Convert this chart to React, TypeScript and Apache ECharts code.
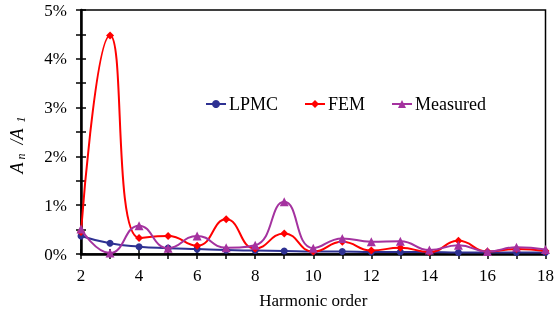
import React, { useEffect, useRef } from "react";
import * as echarts from "echarts";

const harmonics = [2, 3, 4, 5, 6, 7, 8, 9, 10, 11, 12, 13, 14, 15, 16, 17, 18];
const lpmc = [0.37, 0.22, 0.15, 0.12, 0.1, 0.08, 0.07, 0.06, 0.05, 0.05, 0.04, 0.04, 0.04, 0.03, 0.03, 0.03, 0.03];
const fem = [0.45, 4.48, 0.33, 0.37, 0.17, 0.71, 0.11, 0.42, 0.05, 0.25, 0.07, 0.13, 0.04, 0.27, 0.05, 0.1, 0.06];
const measured = [0.51, 0.02, 0.58, 0.12, 0.37, 0.13, 0.18, 1.07, 0.12, 0.32, 0.25, 0.26, 0.08, 0.18, 0.05, 0.14, 0.09];
const seriesNames = ["LPMC", "FEM", "Measured"];
const yTickLabels = ["0%", "1%", "2%", "3%", "4%", "5%"];
const xTickLabels = ["2", "4", "6", "8", "10", "12", "14", "16", "18"];

const FONT = "'Liberation Serif', 'Times New Roman', serif";

export default function App() {
  const ref = useRef<HTMLDivElement>(null);
  useEffect(() => {
    const chart = echarts.init(ref.current!, null, { renderer: "svg" });
    const pairs = (arr: number[]) => harmonics.map((h, i) => [h, arr[i]]);
    const tick = { show: true, length: 5, lineStyle: { color: "#000", width: 1.5 } };
    const xAxisBase = {
      type: "value",
      min: 2,
      max: 18,
      interval: 1,
      splitLine: { show: false },
    };
    const yAxisBase = {
      type: "value",
      min: 0,
      max: 5,
      interval: 0.5,
      splitLine: { show: false },
    };
    chart.setOption({
      animation: false,
      grid: {
        left: 81,
        right: 11,
        top: 10,
        bottom: 61,
        show: true,
        borderColor: "#000",
        borderWidth: 1.5,
        backgroundColor: "transparent",
      },
      legend: {
        left: 200,
        top: 90,
        itemWidth: 20,
        itemHeight: 10,
        itemGap: 26,
        data: seriesNames,
        textStyle: { fontFamily: FONT, fontSize: 18, color: "#000", padding: [0, 0, 0, -2] },
      },
      xAxis: [
        {
          ...xAxisBase,
          axisLine: { show: true, onZero: false, lineStyle: { color: "#000", width: 2.5 } },
          axisTick: { ...tick, inside: false },
          axisLabel: {
            fontFamily: FONT,
            fontSize: 17,
            color: "#000",
            margin: 13,
            formatter: (v: number) => {
              const idx = xTickLabels.indexOf(String(v));
              return idx >= 0 ? xTickLabels[idx] : "";
            },
          },
          name: "Harmonic order",
          nameLocation: "middle",
          nameGap: 38,
          nameTextStyle: { fontFamily: FONT, fontSize: 17, color: "#000" },
        },
        {
          ...xAxisBase,
          position: "bottom",
          axisLine: { show: false },
          axisTick: { ...tick, inside: true },
          axisLabel: { show: false },
        },
      ],
      yAxis: [
        {
          ...yAxisBase,
          axisLine: { show: true, onZero: false, lineStyle: { color: "#000", width: 2.5 } },
          axisTick: { ...tick, inside: false },
          axisLabel: {
            fontFamily: FONT,
            fontSize: 17,
            color: "#000",
            margin: 14,
            formatter: (v: number) => (Number.isInteger(v) ? yTickLabels[v] : ""),
          },
        },
        {
          ...yAxisBase,
          position: "left",
          axisLine: { show: false },
          axisTick: { ...tick, inside: true },
          axisLabel: { show: false },
        },
      ],
      graphic: [
        {
          type: "text",
          x: 17,
          y: 145,
          rotation: Math.PI / 2,
          style: {
            text: "{a|A}{s| n}{a|  /A}{s|  1}",
            align: "center",
            verticalAlign: "middle",
            rich: {
              a: { fontFamily: FONT, fontSize: 18, fontStyle: "italic", lineHeight: 20, verticalAlign: "middle", fill: "#000" },
              s: { fontFamily: FONT, fontSize: 12, fontStyle: "italic", lineHeight: 8, verticalAlign: "bottom", fill: "#000" },
            },
          },
        },
      ],
      series: [
        {
          name: "LPMC",
          type: "line",
          smooth: 0.5,
          data: pairs(lpmc),
          symbol: "circle",
          symbolSize: 7,
          color: "#2E3192",
          lineStyle: { width: 2, color: "#2E3192" },
          itemStyle: { color: "#2E3192" },
          z: 3,
        },
        {
          name: "FEM",
          type: "line",
          smooth: 0.5,
          data: pairs(fem),
          symbol: "diamond",
          symbolSize: 8,
          color: "#FF0000",
          lineStyle: { width: 2, color: "#FF0000" },
          itemStyle: { color: "#FF0000" },
          z: 4,
        },
        {
          name: "Measured",
          type: "line",
          smooth: 0.5,
          data: pairs(measured),
          symbol: "triangle",
          symbolSize: 9,
          color: "#A4329F",
          lineStyle: { width: 2, color: "#A4329F" },
          itemStyle: { color: "#A4329F" },
          z: 5,
        },
      ],
    });
    return () => chart.dispose();
  }, []);
  return <div ref={ref} style={{ position: "fixed", left: 0, top: 0, width: 557, height: 315 }} />;
}
